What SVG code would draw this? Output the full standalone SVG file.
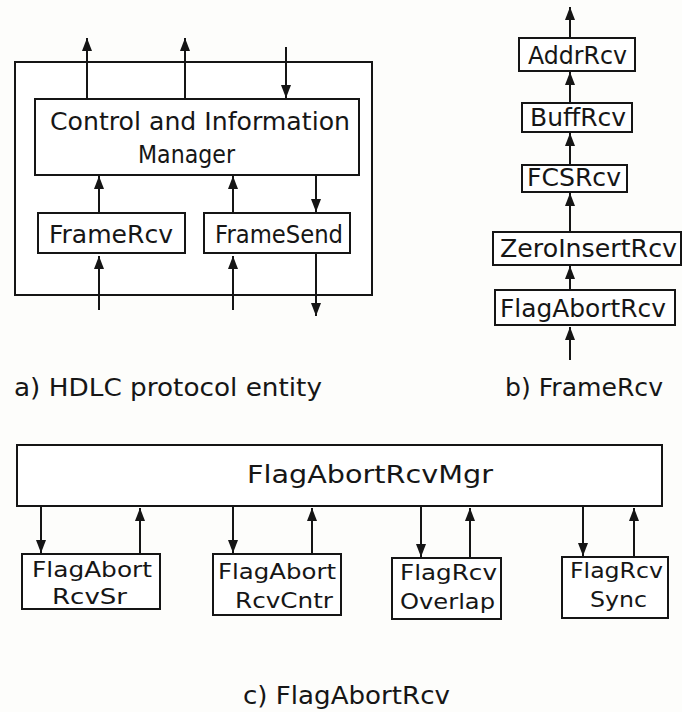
<svg xmlns="http://www.w3.org/2000/svg" width="682" height="712" viewBox="0 0 682 712">
  <defs>
    <marker id="ah" markerUnits="userSpaceOnUse" markerWidth="15" markerHeight="12" viewBox="-14 -6 15 12" refX="0" refY="0" orient="auto">
      <path d="M0 0 L-13 -5 L-13 5 Z" fill="#151515"/>
    </marker>
    <style>
      rect.box { fill: #fff; stroke: #151515; stroke-width: 2; }
      .conn line { stroke: #151515; stroke-width: 2; }
      text { font-family: "DejaVu Sans", "Liberation Sans", sans-serif; font-size: 25px; fill: #161616; }
      text.two { font-size: 22px; }
    </style>
  </defs>
  <rect width="682" height="712" fill="#fdfdfb"/>

  <!-- a) HDLC protocol entity -->
  <g id="hdlc-entity"><rect class="box" x="15" y="62" width="357" height="233"/></g>
  <g id="cim">
    <rect class="box" x="35" y="99" width="324" height="76"/>
    <text x="50" y="130" textLength="300" lengthAdjust="spacingAndGlyphs">Control and Information</text>
    <text x="138" y="163" textLength="97" lengthAdjust="spacingAndGlyphs">Manager</text>
  </g>
  <g id="a-framercv">
    <rect class="box" x="38" y="213" width="147" height="40"/>
    <text x="49" y="243" textLength="124" lengthAdjust="spacingAndGlyphs">FrameRcv</text>
  </g>
  <g id="a-framesend">
    <rect class="box" x="204" y="213" width="146" height="40"/>
    <text x="215" y="243" textLength="128" lengthAdjust="spacingAndGlyphs">FrameSend</text>
  </g>
  <text x="14" y="396" textLength="308" lengthAdjust="spacingAndGlyphs">a) HDLC protocol entity</text>

  <!-- b) FrameRcv -->
  <g id="addrrcv">
    <rect class="box" x="519" y="38" width="116" height="33"/>
    <text x="528" y="64" textLength="99" lengthAdjust="spacingAndGlyphs">AddrRcv</text>
  </g>
  <g id="buffrcv">
    <rect class="box" x="522" y="103" width="110" height="29"/>
    <text x="530" y="126" textLength="96" lengthAdjust="spacingAndGlyphs">BuffRcv</text>
  </g>
  <g id="fcsrcv">
    <rect class="box" x="522" y="165" width="105" height="27"/>
    <text x="527" y="186" textLength="94" lengthAdjust="spacingAndGlyphs">FCSRcv</text>
  </g>
  <g id="zeroinsertrcv">
    <rect class="box" x="493" y="232" width="188" height="33"/>
    <text x="500" y="257" textLength="177" lengthAdjust="spacingAndGlyphs">ZeroInsertRcv</text>
  </g>
  <g id="flagabortrcv">
    <rect class="box" x="495" y="290" width="180" height="35"/>
    <text x="500" y="317" textLength="166" lengthAdjust="spacingAndGlyphs">FlagAbortRcv</text>
  </g>
  <text x="505" y="396" textLength="158" lengthAdjust="spacingAndGlyphs">b) FrameRcv</text>

  <!-- c) FlagAbortRcv -->
  <g id="mgr">
    <rect class="box" x="17" y="445" width="645" height="61"/>
    <text x="247" y="483" textLength="246" lengthAdjust="spacingAndGlyphs">FlagAbortRcvMgr</text>
  </g>
  <g id="rcvsr">
    <rect class="box" x="22" y="554" width="138" height="55"/>
    <text class="two" x="32" y="577" textLength="120" lengthAdjust="spacingAndGlyphs">FlagAbort</text>
    <text class="two" x="52" y="604" textLength="75" lengthAdjust="spacingAndGlyphs">RcvSr</text>
  </g>
  <g id="rcvcntr">
    <rect class="box" x="213" y="554" width="128" height="61"/>
    <text class="two" x="218" y="579" textLength="118" lengthAdjust="spacingAndGlyphs">FlagAbort</text>
    <text class="two" x="235" y="608" textLength="98" lengthAdjust="spacingAndGlyphs">RcvCntr</text>
  </g>
  <g id="overlap">
    <rect class="box" x="392" y="558" width="109" height="61"/>
    <text class="two" x="400" y="580" textLength="97" lengthAdjust="spacingAndGlyphs">FlagRcv</text>
    <text class="two" x="400" y="609" textLength="95" lengthAdjust="spacingAndGlyphs">Overlap</text>
  </g>
  <g id="sync">
    <rect class="box" x="562" y="557" width="106" height="61"/>
    <text class="two" x="570" y="578" textLength="93" lengthAdjust="spacingAndGlyphs">FlagRcv</text>
    <text class="two" x="590" y="607" textLength="57" lengthAdjust="spacingAndGlyphs">Sync</text>
  </g>
  <text x="243" y="704" textLength="207" lengthAdjust="spacingAndGlyphs">c) FlagAbortRcv</text>

  <g id="connectors" class="conn">
    <!-- a -->
    <line x1="87" y1="99" x2="87" y2="38" marker-end="url(#ah)"/>
    <line x1="185" y1="99" x2="185" y2="38" marker-end="url(#ah)"/>
    <line x1="286" y1="47" x2="286" y2="98" marker-end="url(#ah)"/>
    <line x1="99" y1="213" x2="99" y2="176" marker-end="url(#ah)"/>
    <line x1="233" y1="213" x2="233" y2="176" marker-end="url(#ah)"/>
    <line x1="316" y1="175" x2="316" y2="212" marker-end="url(#ah)"/>
    <line x1="99" y1="310" x2="99" y2="256" marker-end="url(#ah)"/>
    <line x1="233" y1="310" x2="233" y2="256" marker-end="url(#ah)"/>
    <line x1="316" y1="253" x2="316" y2="316" marker-end="url(#ah)"/>
    <!-- b -->
    <line x1="570" y1="38" x2="570" y2="7" marker-end="url(#ah)"/>
    <line x1="570" y1="103" x2="570" y2="72" marker-end="url(#ah)"/>
    <line x1="570" y1="165" x2="570" y2="133" marker-end="url(#ah)"/>
    <line x1="570" y1="232" x2="570" y2="193" marker-end="url(#ah)"/>
    <line x1="570" y1="290" x2="570" y2="266" marker-end="url(#ah)"/>
    <line x1="570" y1="360" x2="570" y2="327" marker-end="url(#ah)"/>
    <!-- c -->
    <line x1="41" y1="506" x2="41" y2="553" marker-end="url(#ah)"/>
    <line x1="140" y1="554" x2="140" y2="508" marker-end="url(#ah)"/>
    <line x1="233" y1="506" x2="233" y2="553" marker-end="url(#ah)"/>
    <line x1="312" y1="554" x2="312" y2="508" marker-end="url(#ah)"/>
    <line x1="421" y1="506" x2="421" y2="557" marker-end="url(#ah)"/>
    <line x1="470" y1="558" x2="470" y2="508" marker-end="url(#ah)"/>
    <line x1="583" y1="506" x2="583" y2="556" marker-end="url(#ah)"/>
    <line x1="634" y1="557" x2="634" y2="508" marker-end="url(#ah)"/>
  </g>
</svg>
